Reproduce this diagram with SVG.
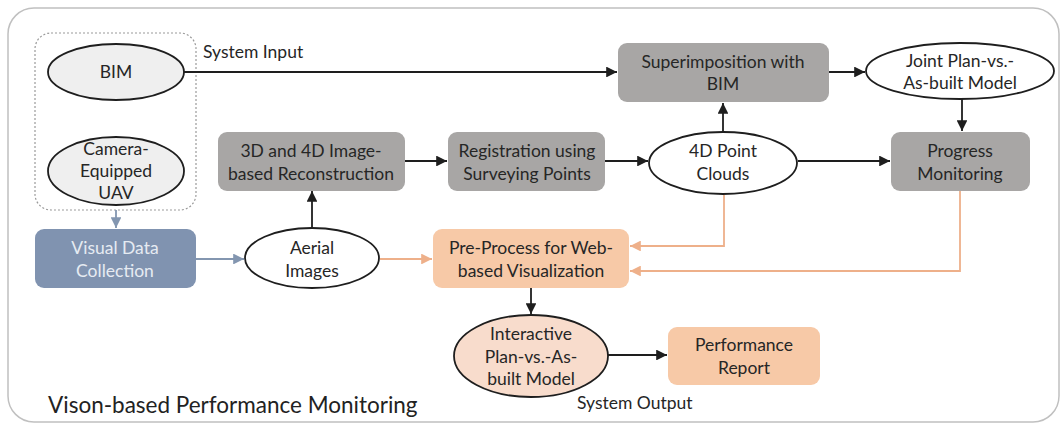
<svg xmlns="http://www.w3.org/2000/svg" width="1064" height="427" viewBox="0 0 1064 427">
  <defs>
    <style>
      .frame { fill: #ffffff; stroke: #c0c0c0; stroke-width: 1.5; }
      .group { fill: none; stroke: #9a9a9a; stroke-width: 1.2; stroke-dasharray: 2 2; }
      .ell { fill: #ffffff; stroke: #1e1e1e; stroke-width: 1.8; }
      .ell-gray { fill: #efefef; stroke: #1e1e1e; stroke-width: 1.8; }
      .ell-peach { fill: #f8dccc; stroke: #1e1e1e; stroke-width: 1.8; }
      .box-gray { fill: #a8a6a5; }
      .box-blue { fill: #8093b0; }
      .box-peach { fill: #f7c9a7; }
      .t { font-family: "Lato", "Open Sans", sans-serif; font-size: 17.5px; fill: #262626; text-anchor: middle; }
      .t-blue { font-family: "Lato", "Open Sans", sans-serif; font-size: 17.5px; fill: #e6ebf2; text-anchor: middle; }
      .lbl { font-family: "Lato", "Open Sans", sans-serif; font-size: 17.5px; fill: #262626; }
      .title { font-family: "Lato", "Open Sans", sans-serif; font-size: 22.5px; fill: #222222; }
      .c-black { fill: none; stroke: #1e1e1e; stroke-width: 1.8; marker-end: url(#ah-black); }
      .c-blue { fill: none; stroke: #8396b0; stroke-width: 1.8; marker-end: url(#ah-blue); }
      .c-orange { fill: none; stroke: #eeb08a; stroke-width: 1.8; marker-end: url(#ah-orange); }
    </style>
    <marker id="ah-black" viewBox="0 0 10 10" refX="10" refY="5" markerWidth="6" markerHeight="6" orient="auto" markerUnits="strokeWidth">
      <path d="M0,0 L10,5 L0,10 z" fill="#1e1e1e"/>
    </marker>
    <marker id="ah-blue" viewBox="0 0 10 10" refX="10" refY="5" markerWidth="6" markerHeight="6" orient="auto" markerUnits="strokeWidth">
      <path d="M0,0 L10,5 L0,10 z" fill="#8396b0"/>
    </marker>
    <marker id="ah-orange" viewBox="0 0 10 10" refX="10" refY="5" markerWidth="6" markerHeight="6" orient="auto" markerUnits="strokeWidth">
      <path d="M0,0 L10,5 L0,10 z" fill="#eeb08a"/>
    </marker>
  </defs>

  <!-- outer frame -->
  <rect class="frame" x="8" y="8" width="1051" height="414" rx="26"/>

  <!-- system input grouping -->
  <rect class="group" x="35" y="33" width="161" height="177" rx="16"/>
  <text class="lbl" x="203" y="58">System Input</text>

  <g id="connectors">
    <line class="c-black" x1="184" y1="72" x2="617" y2="72"/>
    <line class="c-black" x1="829" y1="72" x2="865" y2="72"/>
    <line class="c-black" x1="405" y1="161" x2="447" y2="161"/>
    <line class="c-black" x1="605" y1="161" x2="648" y2="161"/>
    <line class="c-black" x1="723" y1="132" x2="723" y2="103"/>
    <line class="c-black" x1="798" y1="161" x2="890" y2="161"/>
    <line class="c-black" x1="962" y1="99" x2="962" y2="131"/>
    <line class="c-black" x1="312" y1="228" x2="312" y2="191"/>
    <line class="c-black" x1="531" y1="288" x2="531" y2="314"/>
    <line class="c-black" x1="608" y1="355" x2="667" y2="355"/>
    <line class="c-blue" x1="116" y1="210" x2="116" y2="228"/>
    <line class="c-blue" x1="196" y1="259" x2="244" y2="259"/>
    <line class="c-orange" x1="380" y1="259" x2="432" y2="259"/>
    <polyline class="c-orange" points="724,195 724,246 630,246"/>
    <polyline class="c-orange" points="960,191 960,271 630,271"/>
  </g>

  <g id="bim">
    <ellipse class="ell-gray" cx="116" cy="72" rx="68" ry="28"/>
    <text class="t" x="116" y="78">BIM</text>
  </g>

  <g id="uav">
    <ellipse class="ell-gray" cx="116" cy="171" rx="68" ry="34"/>
    <text class="t" x="116" y="155">Camera-</text>
    <text class="t" x="116" y="177">Equipped</text>
    <text class="t" x="116" y="199">UAV</text>
  </g>

  <g id="superimposition">
    <rect class="box-gray" x="618" y="43" width="211" height="59" rx="9"/>
    <text class="t" x="723" y="68">Superimposition with</text>
    <text class="t" x="723" y="90">BIM</text>
  </g>

  <g id="joint-model">
    <ellipse class="ell" cx="960" cy="71" rx="94" ry="28"/>
    <text class="t" x="960" y="67">Joint Plan-vs.-</text>
    <text class="t" x="960" y="89">As-built Model</text>
  </g>

  <g id="reconstruction">
    <rect class="box-gray" x="218" y="132" width="187" height="59" rx="9"/>
    <text class="t" x="311" y="157">3D and 4D Image-</text>
    <text class="t" x="311" y="180">based Reconstruction</text>
  </g>

  <g id="registration">
    <rect class="box-gray" x="448" y="132" width="157" height="59" rx="9"/>
    <text class="t" x="527" y="157">Registration using</text>
    <text class="t" x="527" y="180">Surveying Points</text>
  </g>

  <g id="point-clouds">
    <ellipse class="ell" cx="723" cy="163" rx="74" ry="31"/>
    <text class="t" x="723" y="157">4D Point</text>
    <text class="t" x="723" y="180">Clouds</text>
  </g>

  <g id="progress">
    <rect class="box-gray" x="891" y="132" width="139" height="59" rx="9"/>
    <text class="t" x="960" y="157">Progress</text>
    <text class="t" x="960" y="180">Monitoring</text>
  </g>

  <g id="visual-data">
    <rect class="box-blue" x="35" y="229" width="161" height="59" rx="9"/>
    <text class="t-blue" x="115" y="254">Visual Data</text>
    <text class="t-blue" x="115" y="277">Collection</text>
  </g>

  <g id="aerial">
    <ellipse class="ell" cx="312" cy="258" rx="67" ry="30"/>
    <text class="t" x="312" y="254">Aerial</text>
    <text class="t" x="312" y="277">Images</text>
  </g>

  <g id="preprocess">
    <rect class="box-peach" x="433" y="229" width="196" height="59" rx="9"/>
    <text class="t" x="531" y="254">Pre-Process for Web-</text>
    <text class="t" x="531" y="277">based Visualization</text>
  </g>

  <g id="interactive">
    <ellipse class="ell-peach" cx="531" cy="356" rx="77" ry="41"/>
    <text class="t" x="531" y="340">Interactive</text>
    <text class="t" x="531" y="363">Plan-vs.-As-</text>
    <text class="t" x="531" y="385">built Model</text>
  </g>

  <g id="report">
    <rect class="box-peach" x="668" y="327" width="152" height="58" rx="9"/>
    <text class="t" x="744" y="351">Performance</text>
    <text class="t" x="744" y="374">Report</text>
  </g>

  <text class="lbl" x="577" y="409">System Output</text>
  <text class="title" x="48" y="413">Vison-based Performance Monitoring</text>
</svg>
